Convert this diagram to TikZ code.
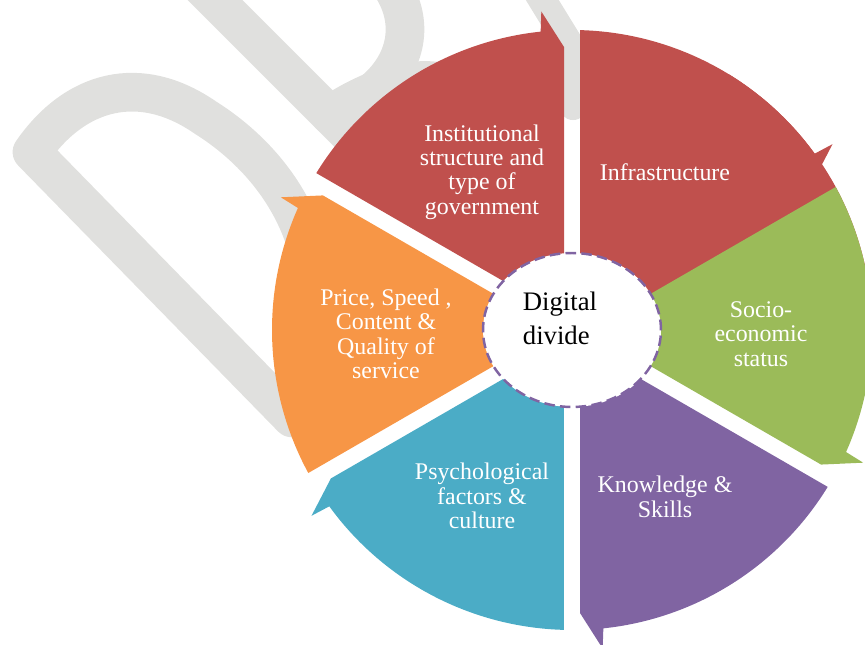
\documentclass[tikz,border=0pt]{standalone}
\usepackage{fontspec}
\setmainfont{Liberation Serif}
\usepackage{tikz}
\usetikzlibrary{shapes.geometric}
\usepackage{xcolor}
\definecolor{segred}{HTML}{C0504D}
\definecolor{segorange}{HTML}{F79646}
\definecolor{seggreen}{HTML}{9BBB59}
\definecolor{segpurple}{HTML}{8064A2}
\definecolor{segteal}{HTML}{4BACC6}
\definecolor{hubline}{HTML}{8064A2}
\definecolor{wmgray}{HTML}{E0E0DE}

\begin{document}
\begin{tikzpicture}[x=0.02cm, y=0.02cm]
\tikzset{
    arrowseg/.pic={
        \fill[#1] (50,8) -- (283,8) -- (5.5:320) -- (6:300)
            arc[start angle=6, end angle=58.47, radius=300]
            -- (31.93,39.30) -- cycle;
    },
    wmark/.style={draw=wmgray, line width=22pt, line cap=round, line join=round},
    segtext/.style={text=white, align=center, inner sep=0pt,
                    font=\fontsize{13.6}{13.9}\selectfont},
    hubtext/.style={text=black, align=left, inner sep=0pt,
                    font=\fontsize{15.2}{19.3}\selectfont},
    hub/.style={ellipse, draw=hubline, fill=white, line width=1.4pt,
                dash pattern=on 6pt off 3pt, inner sep=0pt,
                minimum width=3.56cm, minimum height=3.08cm}
}
\useasboundingbox (-572,-315) rectangle (293,330);

% watermark
\begin{scope}[shift={(-572,330)}, yscale=-1]
\draw[wmark] (292,418) -- (32,152) .. controls (75,90) and (140,72) .. (206,118)
    .. controls (265,155) and (360,250) .. (292,418);
\draw[wmark] (200,-15) -- (410,195);
\draw[wmark] (330,115) .. controls (430,80) and (430,-20) .. (330,-60);
\draw[wmark] (330,115) .. controls (410,60) and (490,70) .. (500,150);
\draw[wmark, line width=16pt] (530,-20) -- (573,50) -- (573,106);
\end{scope}

\pic {arrowseg=segred};
\pic[rotate=30] {arrowseg=segred};
\pic[rotate=-30] {arrowseg=seggreen};
\pic[rotate=-90] {arrowseg=segpurple};
\pic[rotate=-150] {arrowseg=segteal};
\pic[rotate=150] {arrowseg=segorange};
\pic[rotate=90] {arrowseg=segred};

\node[hub] (hub) at (0,0) {};
\node[hubtext] (hubtxt) at (-12,12) {Digital\\divide};

\node[segtext] (infra) at (93,158) {Infrastructure};
\node[segtext] (inst) at (-90,158) {Institutional\\structure and\\type of\\government};
\node[segtext] (price) at (-186,-4) {Price, Speed ,\\Content \&\\Quality of\\service};
\node[segtext] (psych) at (-90,-166) {Psychological\\factors \&\\culture};
\node[segtext] (know) at (93,-167) {Knowledge \&\\Skills};
\node[segtext] (socio) at (189,-4) {Socio-\\economic\\status};
\end{tikzpicture}
\end{document}
